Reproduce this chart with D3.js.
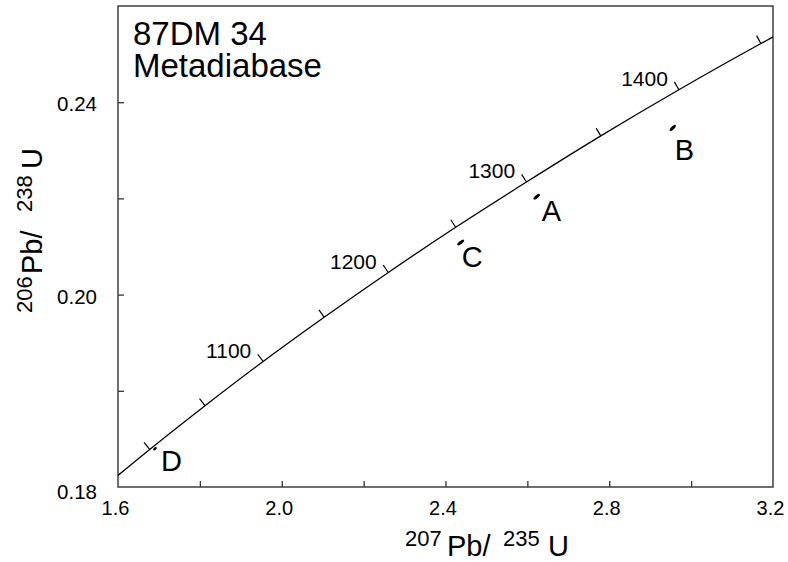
<!DOCTYPE html>
<html>
<head>
<meta charset="utf-8">
<script src="https://cdn.jsdelivr.net/npm/d3@7"></script>
<style>
  html, body { margin: 0; padding: 0; background: #fff; }
  svg { display: block; }
  text { font-family: "Liberation Sans", Arial, Helvetica, sans-serif; fill: #000; }
</style>
</head>
<body>
<svg id="chart" width="788" height="562"></svg>
<script>
// ---- data ----
const concordiaAges = [950, 1000, 1050, 1100, 1150, 1200, 1250, 1300, 1350, 1400, 1450, 1500];
const concordiaX = [1.5488, 1.6774, 1.8126, 1.9545, 2.1036, 2.2603, 2.4249, 2.5977, 2.7793, 2.9701, 3.1705, 3.3810];
const concordiaY = [0.1588, 0.1678, 0.1769, 0.1861, 0.1953, 0.2046, 0.2140, 0.2234, 0.2330, 0.2426, 0.2522, 0.2620];
const ageTickValues = [1000, 1050, 1100, 1150, 1200, 1250, 1300, 1350, 1400, 1450];
const ageLabelValues = [1100, 1200, 1300, 1400];

const sampleNames = ["A", "B", "C", "D"];
const sampleX = [2.6228, 2.9552, 2.4371, 1.6904];
const sampleY = [0.22035, 0.23468, 0.21083, 0.16796];
const sampleErrX = [0.0076, 0.0069, 0.0081, 0.0041];
const sampleErrY = [0.00052, 0.00059, 0.00052, 0.00028];

const xTickValues = [1.6, 1.8, 2.0, 2.2, 2.4, 2.6, 2.8, 3.0, 3.2];
const xTickLabels = ["1.6", "", "2.0", "", "2.4", "", "2.8", "", "3.2"];
const yTickValues = [0.16, 0.18, 0.20, 0.22, 0.24];
const yTickLabels = ["0.18", "", "0.20", "", "0.24"];

const titleLines = ["87DM 34", "Metadiabase"];

(function draw() {
  const svg = d3.select("#chart");
  const pL = 118, pR = 773, pT = 6, pB = 487;
  const x = d3.scaleLinear().domain([1.6, 3.2]).range([pL, pR]);
  const y = d3.scaleLinear().domain([0.16, 0.26]).range([pB, pT]);
  const axisColor = "#333";
  const fontFam = '"Liberation Sans", Arial, Helvetica, sans-serif';

  svg.append("defs").append("clipPath").attr("id", "plotclip")
    .append("rect").attr("x", pL).attr("y", pT).attr("width", pR - pL).attr("height", pB - pT);

  // frame
  svg.append("rect")
    .attr("x", pL).attr("y", pT).attr("width", pR - pL).attr("height", pB - pT)
    .attr("fill", "none").attr("stroke", axisColor).attr("stroke-width", 1.4);

  // x axis (inward ticks)
  const xAxis = d3.axisBottom(x).tickValues(xTickValues)
    .tickSizeInner(-6).tickSizeOuter(0)
    .tickFormat((d, i) => xTickLabels[i]);
  const gx = svg.append("g").attr("transform", `translate(0,${pB})`).call(xAxis)
    .attr("font-family", fontFam).attr("font-size", 20);
  gx.select(".domain").remove();
  gx.selectAll(".tick line").attr("stroke", axisColor).attr("stroke-width", 1.3)
    .filter(d => d === 1.6 || d === 3.2).remove();
  gx.selectAll(".tick text")
    .attr("y", 28).attr("dy", 0).attr("dx", -3)
    .style("font-size", "20px").attr("fill", "#000");

  // y axis (inward ticks)
  const yAxis = d3.axisLeft(y).tickValues(yTickValues)
    .tickSizeInner(-6).tickSizeOuter(0)
    .tickFormat((d, i) => yTickLabels[i]);
  const gy = svg.append("g").attr("transform", `translate(${pL},0)`).call(yAxis)
    .attr("font-family", fontFam).attr("font-size", 20);
  gy.select(".domain").remove();
  gy.selectAll(".tick line").attr("stroke", axisColor).attr("stroke-width", 1.3)
    .filter(d => d === 0.16).remove();
  gy.selectAll(".tick text")
    .attr("x", -21).attr("dy", d => d === 0.16 ? "0.55em" : "0.42em")
    .style("font-size", "20.5px").attr("fill", "#000");

  // concordia curve
  const concPts = concordiaAges.map((a, i) => ({ age: a, cx: concordiaX[i], cy: concordiaY[i] }));
  const line = d3.line().x(d => x(d.cx)).y(d => y(d.cy)).curve(d3.curveNatural);
  svg.append("path").datum(concPts)
    .attr("clip-path", "url(#plotclip)")
    .attr("d", line).attr("fill", "none").attr("stroke", "#000").attr("stroke-width", 1.3);

  // age ticks perpendicular to the curve
  const tickLen = 9;
  ageTickValues.forEach(age => {
    const i = concordiaAges.indexOf(age);
    const p0 = concPts[i - 1], p1 = concPts[i + 1], p = concPts[i];
    const tx = x(p1.cx) - x(p0.cx), ty = y(p1.cy) - y(p0.cy);
    const n = Math.hypot(tx, ty);
    const ux = tx / n, uy = ty / n;
    const px = uy, py = -ux;
    const bx = x(p.cx), by = y(p.cy);
    const ex = bx + px * tickLen, ey = by + py * tickLen;
    svg.append("line").attr("x1", bx).attr("y1", by).attr("x2", ex).attr("y2", ey)
      .attr("stroke", "#000").attr("stroke-width", 1.2);
    if (ageLabelValues.includes(age)) {
      svg.append("text").attr("x", ex - 6.5).attr("y", ey + 4)
        .attr("text-anchor", "end").style("font-size", "21px").text(age);
    }
  });

  // sample error ellipses
  const labelOffsets = { A: [5, 24], B: [2, 32], C: [1, 24.5], D: [6, 22.5] };
  sampleNames.forEach((name, i) => {
    const cx = x(sampleX[i]), cy = y(sampleY[i]);
    const dx = x(sampleX[i] + sampleErrX[i]) - cx;
    const dy = y(sampleY[i] + sampleErrY[i]) - cy;
    const rx = Math.hypot(dx, dy);
    const ang = Math.atan2(dy, dx) * 180 / Math.PI;
    svg.append("ellipse")
      .attr("cx", 0).attr("cy", 0).attr("rx", rx).attr("ry", name === "D" ? 1.3 : 1.6)
      .attr("transform", `translate(${cx},${cy}) rotate(${ang})`)
      .attr("fill", "#000");
    const off = labelOffsets[name];
    svg.append("text").attr("x", cx + off[0]).attr("y", cy + off[1])
      .style("font-size", "29px").text(name);
  });

  // title (one text, two lines)
  const title = svg.append("text").style("font-size", "33px");
  title.append("tspan").attr("x", 133).attr("y", 45).text(titleLines[0]);
  title.append("tspan").attr("x", 133).attr("y", 77).text(titleLines[1]);

  // x-axis title: 207Pb/ 235U
  const xt = svg.append("text").attr("y", 556);
  xt.append("tspan").attr("x", 405).attr("y", 546).style("font-size", "22px").text("207");
  xt.append("tspan").attr("x", 447).attr("y", 556).style("font-size", "29px").text("Pb/");
  xt.append("tspan").attr("x", 503).attr("y", 546).style("font-size", "22px").text("235");
  xt.append("tspan").attr("x", 548).attr("y", 556).style("font-size", "29px").text("U");

  // y-axis title: 206Pb/ 238U (rotated)
  const yt = svg.append("text").attr("transform", "translate(42,313) rotate(-90)");
  yt.append("tspan").attr("x", 0).attr("y", -10).style("font-size", "22px").text("206");
  yt.append("tspan").attr("x", 39).attr("y", 0).style("font-size", "29px").text("Pb/");
  yt.append("tspan").attr("x", 101).attr("y", -10).style("font-size", "22px").text("238");
  yt.append("tspan").attr("x", 144).attr("y", 0).style("font-size", "29px").text("U");
})();
</script>
</body>
</html>
